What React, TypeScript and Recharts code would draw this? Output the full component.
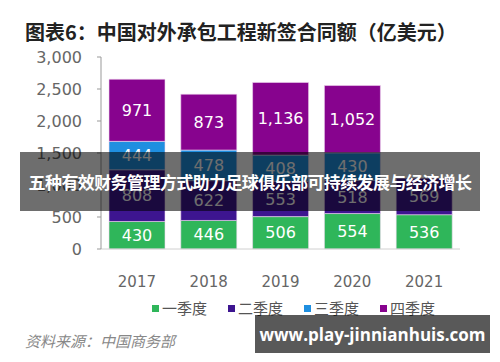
import React from "react";
import { BarChart, Bar, XAxis, YAxis, LabelList } from "recharts";

const years = ["2017", "2018", "2019", "2020", "2021"];
const q1 = [430, 446, 506, 554, 536];
const q2 = [808, 622, 553, 518, 569];
const q3 = [444, 478, 408, 430, null];
const q4 = [971, 873, 1136, 1052, null];
const yTicks = [0, 500, 1000, 1500, 2000, 2500, 3000];

const chartData = years.map((year, i) => ({
  year,
  q1: q1[i],
  q2: q2[i],
  q3: q3[i],
  q4: q4[i],
}));

const series = [
  { key: "q1", name: "一季度", color: "#2fb65a" },
  { key: "q2", name: "二季度", color: "#3d1590" },
  { key: "q3", name: "三季度", color: "#1f8fe0" },
  { key: "q4", name: "四季度", color: "#87038e" },
];

const numFont = "'DejaVu Sans', 'Noto Sans CJK SC', sans-serif";
const cjkFont = "'Noto Sans CJK SC', 'Noto Sans', sans-serif";

const fmt = (v: any) => (v == null ? "" : Number(v).toLocaleString("en-US"));

const LegendRow = () => (
  <div
    style={{
      position: "absolute",
      left: 152,
      top: 298,
      display: "flex",
      fontFamily: cjkFont,
      fontSize: 15,
      color: "#555",
      lineHeight: "20px",
      whiteSpace: "nowrap",
    }}
  >
    {series.map((s) => (
      <div
        key={s.key}
        style={{ display: "flex", alignItems: "center", marginRight: 21 }}
      >
        <span
          style={{
            display: "inline-block",
            width: 7,
            height: 7,
            background: s.color,
            marginRight: 3,
          }}
        />
        <span>{s.name}</span>
      </div>
    ))}
  </div>
);

const App = () => {
  return (
    <div
      style={{
        position: "absolute",
        left: 0,
        top: 0,
        width: 500,
        height: 362,
        background: "#fff",
        overflow: "hidden",
      }}
    >
      <div
        style={{
          position: "absolute",
          left: 25,
          top: 18,
          fontFamily: cjkFont,
          fontWeight: 700,
          fontSize: 20,
          lineHeight: "28px",
          color: "#222",
          whiteSpace: "nowrap",
        }}
      >
        图表6：中国对外承包工程新签合同额（亿美元）
      </div>
      <BarChart
        width={500}
        height={362}
        data={chartData}
        margin={{ top: 57, right: 40, left: 0, bottom: 83 }}
      >
        <XAxis
          dataKey="year"
          height={30}
          axisLine={{ stroke: "#d0d0d0" }}
          tickLine={false}
          tickSize={0}
          tickMargin={27}
          tick={{ fill: "#666", fontSize: 15, fontFamily: numFont }}
        />
        <YAxis
          width={101}
          domain={[0, 3000]}
          ticks={yTicks}
          tickFormatter={fmt}
          axisLine={{ stroke: "#999" }}
          tickLine={{ stroke: "#999" }}
          tickSize={4}
          tickMargin={15}
          tick={{ fill: "#666", fontSize: 16, fontFamily: numFont }}
        />
        {series.map((s) => (
          <Bar
            key={s.key}
            dataKey={s.key}
            name={s.name}
            stackId="a"
            fill={s.color}
            stroke="#f0d8f0"
            strokeWidth={0.6}
            barSize={56}
            isAnimationActive={false}
          >
            <LabelList
              dataKey={s.key}
              position="center"
              formatter={fmt}
              fill="#fff"
              fontSize={16}
              fontFamily={numFont}
            />
          </Bar>
        ))}
      </BarChart>
      <LegendRow />
      <div
        style={{
          position: "absolute",
          left: 25,
          top: 330,
          fontFamily: cjkFont,
          fontStyle: "italic",
          fontSize: 15,
          lineHeight: "22px",
          color: "#888",
        }}
      >
        资料来源：中国商务部
      </div>
      <div
        style={{
          position: "absolute",
          left: 20,
          top: 152,
          width: 460,
          height: 59,
          background: "rgba(0,0,0,0.57)",
          color: "#fff",
          fontFamily: cjkFont,
          fontWeight: 700,
          fontSize: 17,
          letterSpacing: -0.6,
          display: "flex",
          alignItems: "center",
          justifyContent: "center",
          whiteSpace: "nowrap",
        }}
      >
        五种有效财务管理方式助力足球俱乐部可持续发展与经济增长
      </div>
      <div
        style={{
          position: "absolute",
          left: 255,
          top: 315,
          width: 235,
          height: 38,
          background: "rgba(0,0,0,0.65)",
          color: "#fff",
          fontFamily: "'Open Sans', 'Noto Sans', sans-serif",
          fontWeight: 700,
          fontSize: 17,
          display: "flex",
          alignItems: "center",
          justifyContent: "center",
          whiteSpace: "nowrap",
        }}
      >
        www.play-jinnianhuis.com
      </div>
    </div>
  );
};

export default App;
